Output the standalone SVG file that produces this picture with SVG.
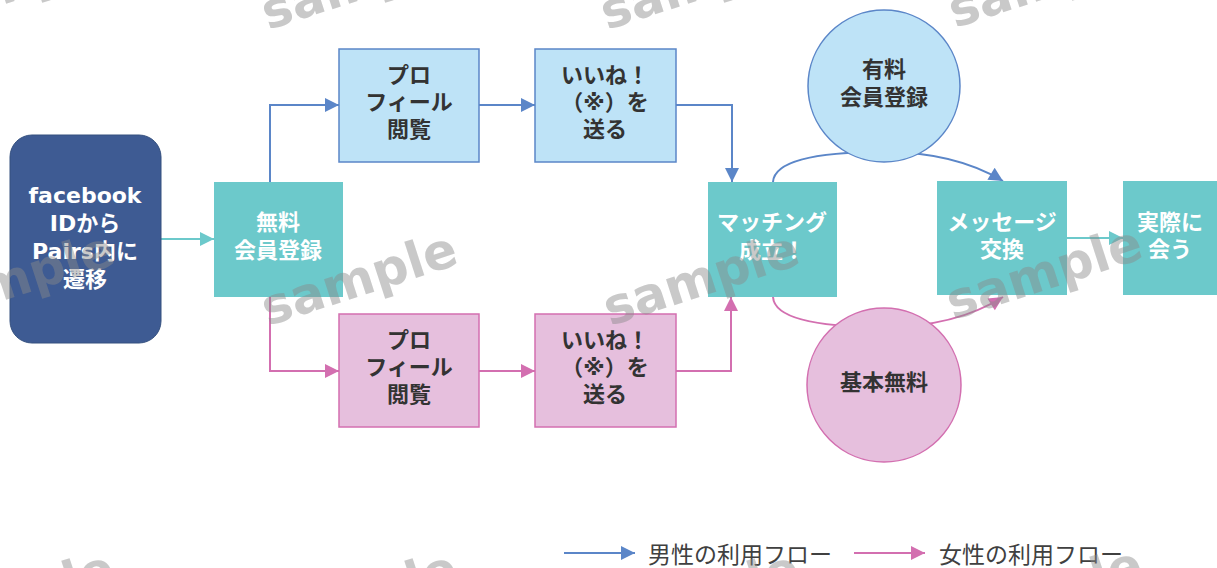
<svg xmlns="http://www.w3.org/2000/svg" width="1217" height="568" viewBox="0 0 1217 568">
<defs>
<style>
.t{font-family:"DejaVu Sans","Noto Sans CJK JP",sans-serif;font-weight:bold;font-size:22px;text-anchor:middle}
.w{fill:#ffffff}
.d{fill:#333333}
.teal{fill:#6CC9CB}
.lb{fill:#BEE3F7;stroke:#5B86C8;stroke-width:1.5}
.pk{fill:#E6BFDD;stroke:#D36FB0;stroke-width:1.5}
.cb{stroke:#5B86C8;stroke-width:2;fill:none}
.cp{stroke:#D36FB0;stroke-width:2;fill:none}
.ct{stroke:#6CC9CB;stroke-width:2;fill:none}
.leg{font-family:"Noto Sans CJK JP",sans-serif;font-size:23px;fill:#404040}
.wm{font-family:"DejaVu Sans",sans-serif;font-weight:bold;font-size:50px;fill:#8a8a8a;opacity:0.45}
</style>
<marker id="ab" viewBox="0 0 10 10" refX="10" refY="5" markerWidth="7.5" markerHeight="7" markerUnits="strokeWidth" orient="auto"><path d="M0,0 L10,5 L0,10 z" fill="#5B86C8"/></marker>
<marker id="ap" viewBox="0 0 10 10" refX="10" refY="5" markerWidth="7.5" markerHeight="7" markerUnits="strokeWidth" orient="auto"><path d="M0,0 L10,5 L0,10 z" fill="#D36FB0"/></marker>
<marker id="at" viewBox="0 0 10 10" refX="10" refY="5" markerWidth="7.5" markerHeight="7" markerUnits="strokeWidth" orient="auto"><path d="M0,0 L10,5 L0,10 z" fill="#6CC9CB"/></marker>
</defs>
<rect width="1217" height="568" fill="#ffffff"/>

<g id="connectors">
<path class="ct" d="M161,239 H214" marker-end="url(#at)"/>
<path class="cb" d="M270,182 V105 H339" marker-end="url(#ab)"/>
<path class="cb" d="M479,105 H535" marker-end="url(#ab)"/>
<path class="cb" d="M676,105 H732 V182" marker-end="url(#ab)"/>
<path class="cp" d="M270,297 V371 H339" marker-end="url(#ap)"/>
<path class="cp" d="M479,371 H535" marker-end="url(#ap)"/>
<path class="cp" d="M676,371 H731 V297" marker-end="url(#ap)"/>
<path class="cb" d="M773,182 Q775,152 884,152 Q955,152 1003,181" marker-end="url(#ab)"/>
<path class="cp" d="M773,297 Q775,327 884,327 Q955,327 1003,297" marker-end="url(#ap)"/>
<path class="ct" d="M1067,238 H1123" marker-end="url(#at)"/>
</g>

<g id="facebook">
<rect x="10" y="135" width="151" height="208" rx="22" fill="#3E5B93" stroke="#34507f" stroke-width="1"/>
<text class="t w" x="85" y="203">facebook</text>
<text class="t w" x="85" y="231">IDから</text>
<text class="t w" x="85" y="259">Pairs内に</text>
<text class="t w" x="85" y="287">遷移</text>
</g>

<g id="free-register">
<rect class="teal" x="214" y="182" width="129" height="115"/>
<text class="t w" x="278" y="230">無料</text>
<text class="t w" x="278" y="258">会員登録</text>
</g>

<g id="m-profile">
<rect class="lb" x="339" y="49" width="140" height="113"/>
<text class="t d" x="409" y="83">プロ</text>
<text class="t d" x="409" y="110">フィール</text>
<text class="t d" x="409" y="137">閲覧</text>
</g>

<g id="m-like">
<rect class="lb" x="535" y="49" width="141" height="113"/>
<text class="t d" x="605" y="83">いいね！</text>
<text class="t d" x="605" y="110">（※）を</text>
<text class="t d" x="605" y="137">送る</text>
</g>

<g id="f-profile">
<rect class="pk" x="339" y="314" width="140" height="113"/>
<text class="t d" x="409" y="348">プロ</text>
<text class="t d" x="409" y="375">フィール</text>
<text class="t d" x="409" y="402">閲覧</text>
</g>

<g id="f-like">
<rect class="pk" x="535" y="314" width="141" height="113"/>
<text class="t d" x="605" y="348">いいね！</text>
<text class="t d" x="605" y="375">（※）を</text>
<text class="t d" x="605" y="402">送る</text>
</g>

<g id="matching">
<rect class="teal" x="708" y="182" width="129" height="115"/>
<text class="t w" x="772" y="230">マッチング</text>
<text class="t w" x="772" y="258">成立！</text>
</g>

<g id="paid">
<circle cx="884" cy="86" r="76" fill="#BEE3F7" stroke="#5B86C8" stroke-width="1.5"/>
<text class="t d" x="884" y="77">有料</text>
<text class="t d" x="884" y="105">会員登録</text>
</g>

<g id="basic-free">
<circle cx="884" cy="385" r="77" fill="#E6BFDD" stroke="#D36FB0" stroke-width="1.5"/>
<text class="t d" x="884" y="390">基本無料</text>
</g>

<g id="message">
<rect class="teal" x="937" y="181" width="130" height="114"/>
<text class="t w" x="1002" y="230">メッセージ</text>
<text class="t w" x="1002" y="257">交換</text>
</g>

<g id="meet">
<rect class="teal" x="1123" y="181" width="94" height="114"/>
<text class="t w" x="1170" y="230">実際に</text>
<text class="t w" x="1170" y="257">会う</text>
</g>

<g id="legend">
<path class="cb" d="M564,553 H635" marker-end="url(#ab)"/>
<text class="leg" x="648" y="563">男性の利用フロー</text>
<path class="cp" d="M854,553 H925" marker-end="url(#ap)"/>
<text class="leg" x="939" y="563">女性の利用フロー</text>
</g>

<g id="watermarks">
<text class="wm" x="-75" y="30" transform="rotate(-18,-75,30)">sample</text>
<text class="wm" x="268" y="30" transform="rotate(-18,268,30)">sample</text>
<text class="wm" x="607" y="30" transform="rotate(-18,607,30)">sample</text>
<text class="wm" x="955" y="28" transform="rotate(-18,955,28)">sample</text>
<text class="wm" x="-75" y="326" transform="rotate(-18,-75,326)">sample</text>
<text class="wm" x="268" y="326" transform="rotate(-18,268,326)">sample</text>
<text class="wm" x="610" y="326" transform="rotate(-18,610,326)">sample</text>
<text class="wm" x="953" y="320" transform="rotate(-18,953,320)">sample</text>
<text class="wm" x="-75" y="645" transform="rotate(-18,-75,645)">sample</text>
<text class="wm" x="268" y="645" transform="rotate(-18,268,645)">sample</text>
<text class="wm" x="610" y="645" transform="rotate(-18,610,645)">sample</text>
<text class="wm" x="953" y="641" transform="rotate(-18,953,641)">sample</text>
</g>
</svg>
